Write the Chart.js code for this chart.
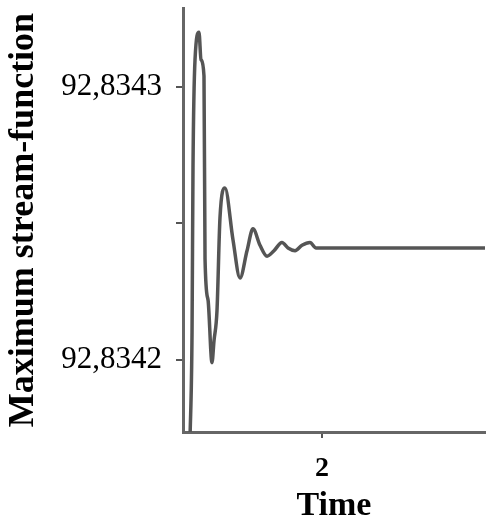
<!DOCTYPE html>
<html>
<head>
<meta charset="utf-8">
<script src="https://cdn.jsdelivr.net/npm/chart.js@4.4.1/dist/chart.umd.min.js"></script>
<style>
  html, body { margin: 0; padding: 0; background: #fff; }
  #wrap { width: 500px; height: 527px; }
</style>
</head>
<body>
<div id="wrap"><canvas id="streamChart" width="500" height="527"></canvas></div>
<script>
// time values
const tempo = [0.10, 0.13, 0.144, 0.173, 0.23, 0.259, 0.302, 0.317, 0.36, 0.417, 0.446, 0.489,
  0.532, 0.604, 0.719, 0.82, 0.921, 1.007, 1.108, 1.209, 1.309, 1.424, 1.511, 1.612, 1.712,
  1.827, 1.914, 4.345];
// maximum stream-function values
const psiMax = [92.83417, 92.834210, 92.834271, 92.834310, 92.834320, 92.834310, 92.834304,
  92.834237, 92.834222, 92.834199, 92.834207, 92.834218, 92.834252, 92.834263, 92.834244,
  92.834230, 92.834240, 92.834248, 92.834242, 92.834238, 92.834240, 92.834243, 92.834241,
  92.834240, 92.834242, 92.834243, 92.834241, 92.834241];

const yTicks = [92.8342, 92.83425, 92.8343];
const yTickLabels = ["92,8342", "", "92,8343"];
const xTicks = [2];
const xTickLabels = ["2"];

const pontos = tempo.map((t, i) => ({ x: t, y: psiMax[i] }));

const serif = "'Liberation Serif', 'Times New Roman', serif";

const ctx = document.getElementById("streamChart").getContext("2d");

new Chart(ctx, {
  type: "line",
  data: {
    datasets: [
      {
        data: pontos,
        borderColor: "#555",
        borderWidth: 3.5,
        pointRadius: 0,
        cubicInterpolationMode: "monotone",
        fill: false,
      },
      {
        // lighter core gives the doubled-line look of the scan
        data: pontos,
        borderColor: "#a0a0a0",
        borderWidth: 1,
        pointRadius: 0,
        cubicInterpolationMode: "monotone",
        fill: false,
      },
    ],
  },
  options: {
    responsive: false,
    animation: false,
    events: [],
    layout: { padding: { top: 8, right: 15, left: 0, bottom: 0 } },
    plugins: {
      legend: { display: false },
      tooltip: { enabled: false },
    },
    scales: {
      x: {
        type: "linear",
        min: 0,
        max: 4.345,
        afterBuildTicks: (scale) => {
          scale.ticks = xTicks.map((v) => ({ value: v }));
        },
        afterFit: (scale) => {
          scale.height = 95;
          scale.paddingLeft = 0;
          scale.paddingRight = 0;
        },
        border: { display: true, color: "#666", width: 3 },
        grid: {
          display: true,
          drawOnChartArea: false,
          drawTicks: true,
          tickLength: 6,
          color: "#555",
          lineWidth: 2,
        },
        ticks: {
          padding: 14,
          color: "#000",
          font: { family: serif, size: 28, weight: "bold" },
          callback: (value, index) => xTickLabels[index],
        },
        title: {
          display: true,
          text: "Time",
          color: "#000",
          font: { family: serif, size: 34, weight: "bold" },
          padding: { top: 0, bottom: 0 },
        },
      },
      y: {
        type: "linear",
        min: 92.8341736,
        max: 92.8343289,
        afterBuildTicks: (scale) => {
          scale.ticks = yTicks.map((v) => ({ value: v }));
        },
        afterFit: (scale) => {
          scale.width = 183;
          scale.paddingTop = 0;
          scale.paddingBottom = 0;
        },
        border: { display: true, color: "#666", width: 3 },
        grid: {
          display: true,
          drawOnChartArea: false,
          drawTicks: true,
          tickLength: 7,
          color: "#555",
          lineWidth: 2,
        },
        ticks: {
          padding: 14,
          color: "#000",
          font: { family: serif, size: 31 },
          callback: (value, index) => yTickLabels[index],
        },
        title: {
          display: true,
          text: "Maximum stream-function",
          color: "#000",
          font: { family: serif, size: 36, weight: "bold" },
          padding: { top: 2, bottom: 0 },
        },
      },
    },
  },
});
</script>
</body>
</html>
